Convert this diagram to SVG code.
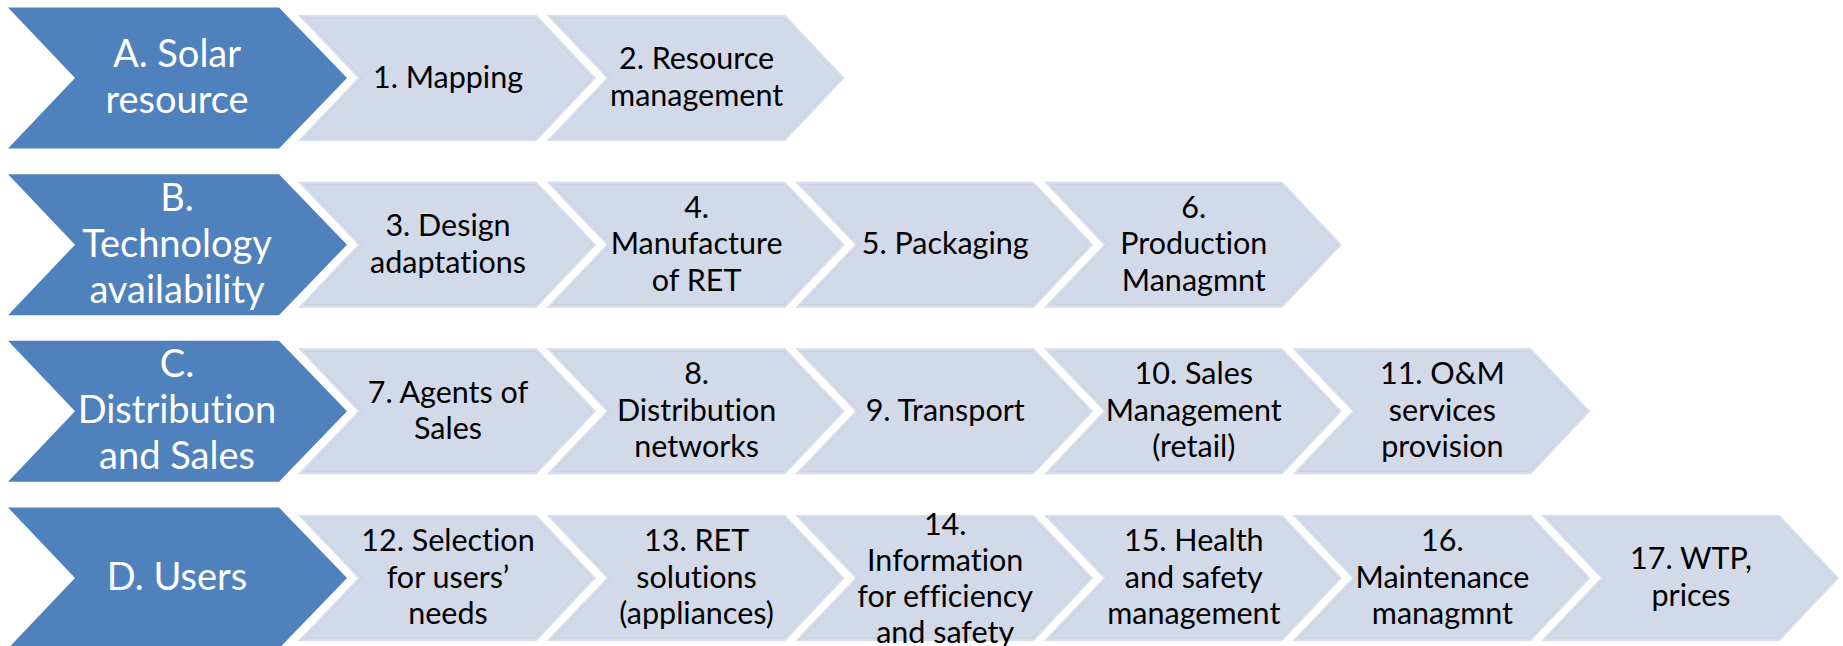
<svg xmlns="http://www.w3.org/2000/svg" xmlns:xlink="http://www.w3.org/1999/xlink" width="1843" height="646" viewBox="0 0 1843 646">
  <style>
    .lbl { font-family: Lato, "Open Sans", "Liberation Sans", sans-serif; text-anchor: middle; font-variant-ligatures: none; }
    .head { fill: #FFFFFF; font-size: 38px; }
    .step { fill: #000000; font-size: 30.5px; }
  </style>
  <defs>
    <!-- heading chevron, anchored at left edge / vertical centre -->
    <polygon id="chev-head" points="0,-70.5 271,-70.5 339,0 271,70.5 0,70.5 67,0" fill="#4F81BD"/>
    <!-- step chevron with a faint inner rim -->
    <g id="chev-step">
      <polygon points="0,-63 238.5,-63 298,0 238.5,63 0,63 60,0" fill="#D6DCEA"/>
      <polygon points="7,-60 237.2,-60 293.9,0 237.2,60 7,60 64.1,0" fill="#D2D9E8" stroke="#CAD2E3" stroke-width="1.2"/>
    </g>
  </defs>
  <rect width="1843" height="646" fill="#FFFFFF"/>

  <g id="connectors"/>

  <!-- Row A -->
  <g id="row-a">
    <g id="node-a">
      <use xlink:href="#chev-head" x="8" y="78"/>
      <text class="lbl head" x="177" y="66.8">A. Solar<tspan x="177" dy="46">resource</tspan></text>
    </g>
    <g id="node-1">
      <use xlink:href="#chev-step" x="298" y="78"/>
      <text class="lbl step" x="448" y="87.5">1. Mapping</text>
    </g>
    <g id="node-2">
      <use xlink:href="#chev-step" x="546.6" y="78"/>
      <text class="lbl step" x="696.6" y="69.3">2. Resource<tspan x="696.6" dy="36.5">management</tspan></text>
    </g>
  </g>

  <!-- Row B -->
  <g id="row-b">
    <g id="node-b">
      <use xlink:href="#chev-head" x="8" y="244.7"/>
      <text class="lbl head" x="177" y="210.5">B.<tspan x="177" dy="46">Technology</tspan><tspan x="177" dy="46">availability</tspan></text>
    </g>
    <g id="node-3">
      <use xlink:href="#chev-step" x="298" y="244.7"/>
      <text class="lbl step" x="448" y="236">3. Design<tspan x="448" dy="36.5">adaptations</tspan></text>
    </g>
    <g id="node-4">
      <use xlink:href="#chev-step" x="546.6" y="244.7"/>
      <text class="lbl step" x="696.6" y="217.7">4.<tspan x="696.6" dy="36.5">Manufacture</tspan><tspan x="696.6" dy="36.5">of RET</tspan></text>
    </g>
    <g id="node-5">
      <use xlink:href="#chev-step" x="795.2" y="244.7"/>
      <text class="lbl step" x="945.2" y="254.2">5. Packaging</text>
    </g>
    <g id="node-6">
      <use xlink:href="#chev-step" x="1043.8" y="244.7"/>
      <text class="lbl step" x="1193.8" y="217.7">6.<tspan x="1193.8" dy="36.5">Production</tspan><tspan x="1193.8" dy="36.5">Managmnt</tspan></text>
    </g>
  </g>

  <!-- Row C -->
  <g id="row-c">
    <g id="node-c">
      <use xlink:href="#chev-head" x="8" y="411.3"/>
      <text class="lbl head" x="177" y="377.1">C.<tspan x="177" dy="46">Distribution</tspan><tspan x="177" dy="46">and Sales</tspan></text>
    </g>
    <g id="node-7">
      <use xlink:href="#chev-step" x="298" y="411.3"/>
      <text class="lbl step" x="448" y="402.6">7. Agents of<tspan x="448" dy="36.5">Sales</tspan></text>
    </g>
    <g id="node-8">
      <use xlink:href="#chev-step" x="546.6" y="411.3"/>
      <text class="lbl step" x="696.6" y="384.3">8.<tspan x="696.6" dy="36.5">Distribution</tspan><tspan x="696.6" dy="36.5">networks</tspan></text>
    </g>
    <g id="node-9">
      <use xlink:href="#chev-step" x="795.2" y="411.3"/>
      <text class="lbl step" x="945.2" y="420.8">9. Transport</text>
    </g>
    <g id="node-10">
      <use xlink:href="#chev-step" x="1043.8" y="411.3"/>
      <text class="lbl step" x="1193.8" y="384.3">10. Sales<tspan x="1193.8" dy="36.5">Management</tspan><tspan x="1193.8" dy="36.5">(retail)</tspan></text>
    </g>
    <g id="node-11">
      <use xlink:href="#chev-step" x="1292.4" y="411.3"/>
      <text class="lbl step" x="1442.4" y="384.3">11. O&amp;M<tspan x="1442.4" dy="36.5">services</tspan><tspan x="1442.4" dy="36.5">provision</tspan></text>
    </g>
  </g>

  <!-- Row D -->
  <g id="row-d">
    <g id="node-d">
      <use xlink:href="#chev-head" x="8" y="578"/>
      <text class="lbl head" x="177" y="589.8">D. Users</text>
    </g>
    <g id="node-12">
      <use xlink:href="#chev-step" x="298" y="578"/>
      <text class="lbl step" x="448" y="551">12. Selection<tspan x="448" dy="36.5">for users’</tspan><tspan x="448" dy="36.5">needs</tspan></text>
    </g>
    <g id="node-13">
      <use xlink:href="#chev-step" x="546.6" y="578"/>
      <text class="lbl step" x="696.6" y="551">13. RET<tspan x="696.6" dy="36.5">solutions</tspan><tspan x="696.6" dy="36.5">(appliances)</tspan></text>
    </g>
    <g id="node-14">
      <use xlink:href="#chev-step" x="795.2" y="578"/>
      <text class="lbl step" x="945.2" y="534.5">14.<tspan x="945.2" dy="36">Information</tspan><tspan x="945.2" dy="36">for efficiency</tspan><tspan x="945.2" dy="36">and safety</tspan></text>
    </g>
    <g id="node-15">
      <use xlink:href="#chev-step" x="1043.8" y="578"/>
      <text class="lbl step" x="1193.8" y="551">15. Health<tspan x="1193.8" dy="36.5">and safety</tspan><tspan x="1193.8" dy="36.5">management</tspan></text>
    </g>
    <g id="node-16">
      <use xlink:href="#chev-step" x="1292.4" y="578"/>
      <text class="lbl step" x="1442.4" y="551">16.<tspan x="1442.4" dy="36.5">Maintenance</tspan><tspan x="1442.4" dy="36.5">managmnt</tspan></text>
    </g>
    <g id="node-17">
      <use xlink:href="#chev-step" x="1541" y="578"/>
      <text class="lbl step" x="1691" y="569.3">17. WTP,<tspan x="1691" dy="36.5">prices</tspan></text>
    </g>
  </g>
</svg>
